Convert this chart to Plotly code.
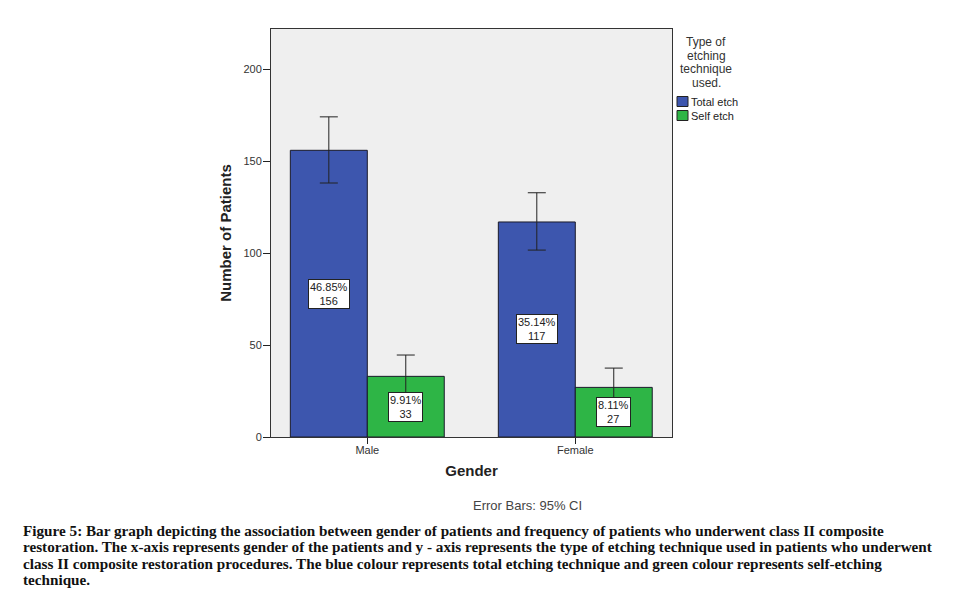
import plotly.graph_objects as go

categories = ["Male", "Female"]
series_names = ["Total etch", "Self etch"]
counts = {"Total etch": [156, 117], "Self etch": [33, 27]}
percents = {"Total etch": ["46.85%", "35.14%"], "Self etch": ["9.91%", "8.11%"]}
ci_plus = {"Total etch": [18.2, 15.9], "Self etch": [11.6, 10.5]}
ci_minus = {"Total etch": [17.8, 15.3], "Self etch": [9.3, 8.1]}
colors = {"Total etch": "#3D56AE", "Self etch": "#2EB546"}
y_ticks = [0, 50, 100, 150, 200]
legend_title_lines = ["Type of", "etching", "technique", "used."]

caption_lines = [
    "Figure 5: Bar graph depicting the association between gender of patients and frequency of patients who underwent class II composite",
    "restoration. The x-axis represents gender of the patients and y - axis represents the type of etching technique used in patients who underwent",
    "class II composite restoration procedures. The blue colour represents total etching technique and green colour represents self-etching",
    "technique.",
]

OFF = 8  # page body margin
W, H = 960 - OFF, 589 - OFF
# plot area in reference page pixels: left 271, right 672, top 29, bottom 437
L, T = 271 - OFF, 29 - OFF
R = W - (672 - OFF)
B = H - (437 - OFF)
bar_w = 0.37

pw = W - L - R
ph = H - T - B


def px_x(px):  # reference page px -> paper
    return (px - OFF - L) / pw


def px_y(py):
    return (H - B - (py - OFF)) / ph


fig = go.Figure()
annotations = []
for j, s in enumerate(series_names):
    xs = [i + (j - 0.5) * bar_w for i in range(len(categories))]
    fig.add_trace(go.Bar(
        x=xs, y=counts[s], width=bar_w, name=s,
        marker=dict(color=colors[s], line=dict(color="#1a1a2a", width=1)),
        error_y=dict(type="data", symmetric=False, array=ci_plus[s], arrayminus=ci_minus[s],
                     color="#222222", thickness=1, width=9),
        showlegend=False, hoverinfo="skip",
    ))
    for x, v, p in zip(xs, counts[s], percents[s]):
        annotations.append(dict(
            x=x, y=v / 2, xref="x", yref="y", text=f"{p}<br>{v}", showarrow=False,
            font=dict(family="Liberation Sans, Arial", size=11, color="#222222"),
            bgcolor="white", bordercolor="#222222", borderwidth=1, borderpad=1,
        ))

# legend (manual, SPSS style)
for k, line in enumerate(legend_title_lines):
    annotations.append(dict(
        x=px_x(706), y=px_y(42 + k * 13.5), xref="paper", yref="paper",
        xanchor="center", yanchor="middle", showarrow=False, text=line,
        font=dict(family="Liberation Sans, Arial", size=12, color="#333333"),
    ))
shapes = []
for k, s in enumerate(series_names):
    yc = 101.5 + k * 14
    shapes.append(dict(type="rect", xref="paper", yref="paper",
                       x0=px_x(677), x1=px_x(688),
                       y0=px_y(yc + 5), y1=px_y(yc - 5),
                       fillcolor=colors[s], line=dict(color="#222222", width=1)))
    annotations.append(dict(
        x=px_x(689), y=px_y(yc), xref="paper", yref="paper",
        xanchor="left", yanchor="middle", showarrow=False, text=s,
        font=dict(family="Liberation Sans, Arial", size=11, color="#222222"),
    ))

annotations.append(dict(
    x=px_x(527), y=px_y(505), xref="paper", yref="paper",
    xanchor="center", yanchor="middle", showarrow=False, text="Error Bars: 95% CI",
    font=dict(family="Liberation Sans Narrow, Liberation Sans, Arial", size=13, color="#444444"),
))

for k, line in enumerate(caption_lines):
    annotations.append(dict(
        x=px_x(21), y=px_y(530 + k * 16.5), xref="paper", yref="paper",
        xanchor="left", yanchor="middle", showarrow=False, text=f"<b>{line}</b>",
        font=dict(family="Liberation Serif, Times New Roman", size=15.2, color="#111111"),
    ))

fig.update_layout(
    width=W, height=H,
    margin=dict(l=L, r=R, t=T, b=B, autoexpand=False),
    paper_bgcolor="white", plot_bgcolor="#EFEFEF",
    barmode="overlay",
    annotations=annotations, shapes=shapes,
    showlegend=False,
    xaxis=dict(
        range=[-0.463, 1.465], tickmode="array", tickvals=list(range(len(categories))),
        ticktext=categories, ticks="outside", ticklen=6, tickcolor="#222222",
        ticklabelstandoff=-3,
        showgrid=False, zeroline=False, showline=True, linecolor="#333333", linewidth=1, mirror=True,
        tickfont=dict(family="Liberation Sans, Arial", size=11, color="#333333"),
        title=dict(text="<b>Gender</b>", standoff=10,
                   font=dict(family="Liberation Sans, Arial", size=15, color="#222222")),
    ),
    yaxis=dict(
        range=[0, 222], tickmode="array", tickvals=y_ticks, ticks="outside", ticklen=7,
        ticklabelstandoff=-1,
        tickcolor="#222222", showgrid=False, zeroline=False, showline=True,
        linecolor="#333333", linewidth=1, mirror=True,
        tickfont=dict(family="Liberation Sans, Arial", size=11, color="#333333"),
        title=dict(text="<b>Number of Patients</b>", standoff=8,
                   font=dict(family="Liberation Sans, Arial", size=15, color="#222222")),
    ),
)

fig.write_html("out.html")
